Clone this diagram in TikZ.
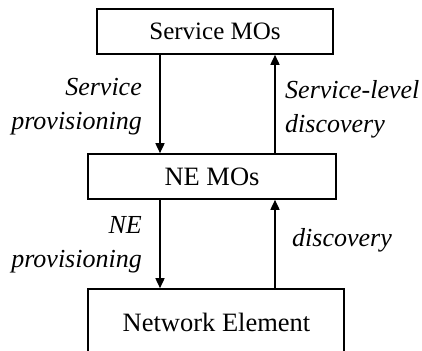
\documentclass[tikz,border=0pt]{standalone}
\usepackage{fontspec}
\setmainfont{Liberation Serif}
\usetikzlibrary{arrows.meta}
\begin{document}
\begin{tikzpicture}[x=1pt,y=-1pt,
  box/.style={draw,line width=1.6pt,inner sep=0pt,font=\fontsize{26.5}{32}\selectfont},
  arr/.style={line width=1.6pt,-{Triangle[length=10pt,width=9pt]}},
  lbl/.style={inner sep=0pt,font=\fontsize{26}{34}\selectfont\itshape}]
\useasboundingbox (0,0) rectangle (422,350);
\clip (0,0) rectangle (422,350);
\node[box,minimum width=236pt,minimum height=45pt,font=\fontsize{25}{30}\selectfont] (svc) at (215,31.5) {Service MOs};
\node[box,minimum width=248pt,minimum height=45pt] (ne) at (212,176.5) {NE MOs};
\node[box,minimum width=256pt,minimum height=66pt] (nel) at (216,322) {};
\node[inner sep=0pt,font=\fontsize{26.5}{32}\selectfont] (neltext) at (216.5,322) {Network Element};
\coordinate (xl) at (160,0);
\coordinate (xr) at (275,0);
\draw[arr] (svc.south -| xl) -- (ne.north -| xl);
\draw[arr] (ne.north -| xr) -- (svc.south -| xr);
\draw[arr] (ne.south -| xl) -- (nel.north -| xl);
\draw[arr] (nel.north -| xr) -- (ne.south -| xr);
\node[lbl,align=right,anchor=east] (l1) at (142,107) {Service\\provisioning};
\node[lbl,align=left,anchor=west] (l2) at (285,109) {Service-level\\discovery};
\node[lbl,align=right,anchor=east] (l3) at (142,245) {NE\\provisioning};
\node[lbl,anchor=west] (l4) at (292,240) {discovery};
\end{tikzpicture}
\end{document}
